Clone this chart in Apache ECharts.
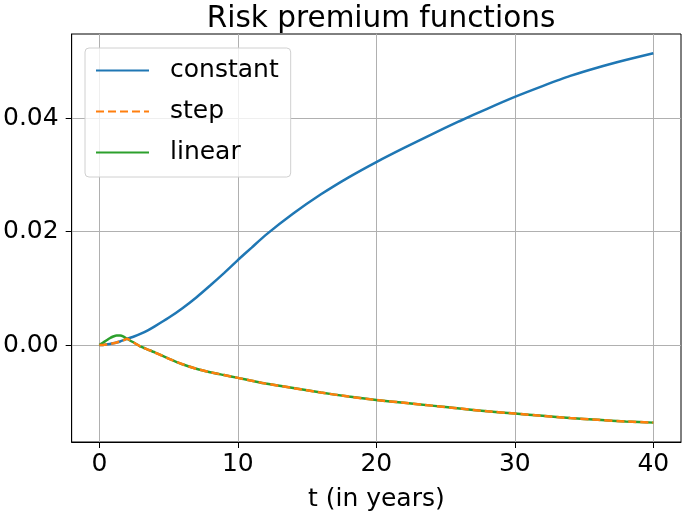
<!DOCTYPE html>
<html>
<head>
<meta charset="utf-8">
<script src="https://cdn.jsdelivr.net/npm/echarts@6/dist/echarts.min.js"></script>
<style>
  html, body { margin: 0; padding: 0; background: #fff; }
  #chart { width: 685px; height: 517px; }
</style>
</head>
<body>
<div id="chart"></div>
<script>
// time grid (years)
var tYears = [0, 0.25, 0.5, 0.75, 1, 1.25, 1.5, 1.75, 2, 2.5, 3, 3.5, 4, 5, 6, 7, 8, 9, 10,
  11, 12, 14, 16, 18, 20, 22, 24, 26, 28, 30, 32, 34, 36, 38, 40]

// risk premium, constant
var constantVals = [0, 0.00002, 0.00008, 0.00018, 0.0003, 0.00045, 0.00062, 0.00085, 0.0011, 0.0015,
  0.0020, 0.0026, 0.0033, 0.0048, 0.0065, 0.0084, 0.0105, 0.0127, 0.0150,
  0.0172, 0.0194, 0.0232, 0.0266, 0.0296, 0.0323, 0.0348, 0.0372, 0.0395, 0.0417, 0.0438,
  0.0457, 0.0475, 0.0490, 0.0503, 0.0515]

// step
var stepVals = [0, 0.00002, 0.00008, 0.00018, 0.0003, 0.00045, 0.00062, 0.00085, 0.0011, 0.0004,
  -0.0003, -0.0008, -0.0013, -0.0024, -0.0034, -0.0042, -0.0048, -0.0053, -0.0058,
  -0.0063, -0.0068, -0.0076, -0.0084, -0.0091, -0.0097, -0.0102, -0.0107, -0.0112, -0.0117, -0.0121,
  -0.0125, -0.0129, -0.0132, -0.0135, -0.0137]

// linear
var linearVals = [0, 0.0004, 0.0008, 0.0012, 0.0015, 0.0017, 0.0017, 0.0015, 0.0011, 0.0004,
  -0.0003, -0.0008, -0.0013, -0.0024, -0.0034, -0.0042, -0.0048, -0.0053, -0.0058,
  -0.0063, -0.0068, -0.0076, -0.0084, -0.0091, -0.0097, -0.0102, -0.0107, -0.0112, -0.0117, -0.0121,
  -0.0125, -0.0129, -0.0132, -0.0135, -0.0137]

var xTicks = [0, 10, 20, 30, 40]
var yTicks = [0, 0.02, 0.04]

var font = 'DejaVu Sans'
var pairs = function(vals) {
  return tYears.map(function(t, i) { return [t, vals[i]] })
}

var chart = echarts.init(document.getElementById('chart'))
chart.setOption({
  animation: false,
  backgroundColor: '#fff',
  title: {
    text: 'Risk premium functions',
    left: 376,
    top: -1,
    textAlign: 'center',
    textStyle: { fontFamily: font, fontSize: 29.5, fontWeight: 'normal', color: '#000' }
  },
  legend: {
    orient: 'vertical',
    left: 85,
    top: 48,
    padding: [10, 12, 12, 10],
    itemWidth: 53,
    itemHeight: 14,
    itemGap: 16,
    backgroundColor: 'rgba(255,255,255,0.8)',
    borderColor: '#d0d0d0',
    borderWidth: 1,
    borderRadius: 4,
    itemStyle: { opacity: 0 },
    textStyle: { fontFamily: font, fontSize: 25, lineHeight: 25, color: '#000', padding: [0, 0, 0, 16] },
    data: ['constant', 'step', 'linear']
  },
  grid: {
    left: 71,
    right: 4,
    top: 34,
    bottom: 75,
    show: true,
    borderColor: '#000',
    borderWidth: 1
  },
  xAxis: {
    type: 'value',
    min: -2,
    max: 42,
    name: 't (in years)',
    nameLocation: 'middle',
    nameGap: 45,
    nameTextStyle: { fontFamily: font, fontSize: 25, color: '#000' },
    axisLine: { show: true, onZero: false, lineStyle: { color: '#000', width: 1 } },
    axisTick: { show: true, length: 6, customValues: xTicks, lineStyle: { color: '#000' } },
    axisLabel: { customValues: xTicks, fontFamily: font, fontSize: 25, color: '#000', margin: 10 },
    splitLine: { show: true, lineStyle: { color: '#b0b0b0', width: 1 } }
  },
  yAxis: {
    type: 'value',
    min: -0.01712,
    max: 0.0549,
    axisLine: { show: true, onZero: false, lineStyle: { color: '#000', width: 1 } },
    axisTick: { show: true, length: 6, customValues: yTicks, lineStyle: { color: '#000' } },
    axisLabel: {
      customValues: yTicks,
      fontFamily: font, fontSize: 25, color: '#000', margin: 13,
      formatter: function(v) { return v.toFixed(2) }
    },
    splitLine: { show: true, lineStyle: { color: '#b0b0b0', width: 1 } }
  },
  series: [
    {
      name: 'constant',
      type: 'line',
      symbol: 'none',
      smooth: 0.2,
      z: 2,
      lineStyle: { color: '#1f77b4', width: 2.5 },
      itemStyle: { color: '#1f77b4' },
      data: pairs(constantVals)
    },
    {
      name: 'step',
      type: 'line',
      symbol: 'none',
      smooth: 0.2,
      z: 4,
      lineStyle: { color: '#ff7f0e', width: 2.5, type: [8, 4] },
      itemStyle: { color: '#ff7f0e' },
      data: pairs(stepVals)
    },
    {
      name: 'linear',
      type: 'line',
      symbol: 'none',
      smooth: 0.2,
      z: 3,
      lineStyle: { color: '#2ca02c', width: 2.5 },
      itemStyle: { color: '#2ca02c' },
      data: pairs(linearVals)
    }
  ]
})
</script>
</body>
</html>
